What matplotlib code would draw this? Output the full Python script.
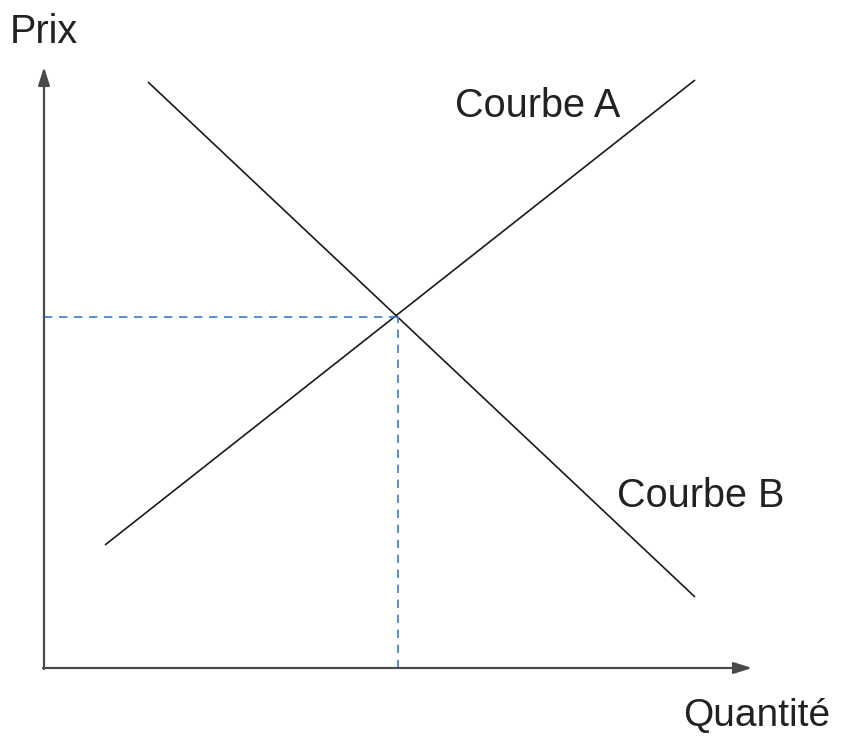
import matplotlib.pyplot as plt

plt.rcParams['font.family'] = ['Liberation Sans', 'DejaVu Sans']

# quantities / prices in drawing units (origin at the axes corner)
courbe_a_q = [61, 651]
courbe_a_p = [123, 588]
courbe_b_q = [104, 651]
courbe_b_p = [586, 71]
equilibre_q = 354
equilibre_p = 351

fig = plt.figure(figsize=(8.44, 7.37), dpi=100)
ax = fig.add_axes([0, 0, 1, 1])
ax.set_xlim(-44, 800)
ax.set_ylim(-69, 668)
ax.axis('off')

# axes with arrows
axis_color = '#4a4a4a'
ax.annotate('', xy=(708, 0), xytext=(-1, 0),
            arrowprops=dict(arrowstyle='-|>,head_length=1.1,head_width=0.35',
                            color=axis_color, lw=1.6, shrinkA=0, shrinkB=0))
ax.annotate('', xy=(0, 601), xytext=(0, -1),
            arrowprops=dict(arrowstyle='-|>,head_length=1.1,head_width=0.35',
                            color=axis_color, lw=1.6, shrinkA=0, shrinkB=0))

# curves
ax.plot(courbe_a_q, courbe_a_p, color='#1a1a1a', lw=1.2, solid_capstyle='butt')
ax.plot(courbe_b_q, courbe_b_p, color='#1a1a1a', lw=1.2, solid_capstyle='butt')

# equilibrium guides
ax.plot([0, equilibre_q], [equilibre_p, equilibre_p], color='#3a7bd5',
        lw=1.2, dashes=(5, 4))
ax.plot([equilibre_q, equilibre_q], [0, equilibre_p], color='#3a7bd5',
        lw=1.2, dashes=(5, 4))

# labels
txt = dict(fontsize=28.5, va='center', color='#222222')
ax.text(-34, 636, 'Prix', ha='left', **txt)
ax.text(786, -48, 'Quantité', ha='right', fontsize=28, va='center', color='#222222')
ax.text(411, 562, 'Courbe A', ha='left', **txt)
ax.text(573, 172, 'Courbe B', ha='left', **txt)

fig.savefig('out.png', dpi=100)
